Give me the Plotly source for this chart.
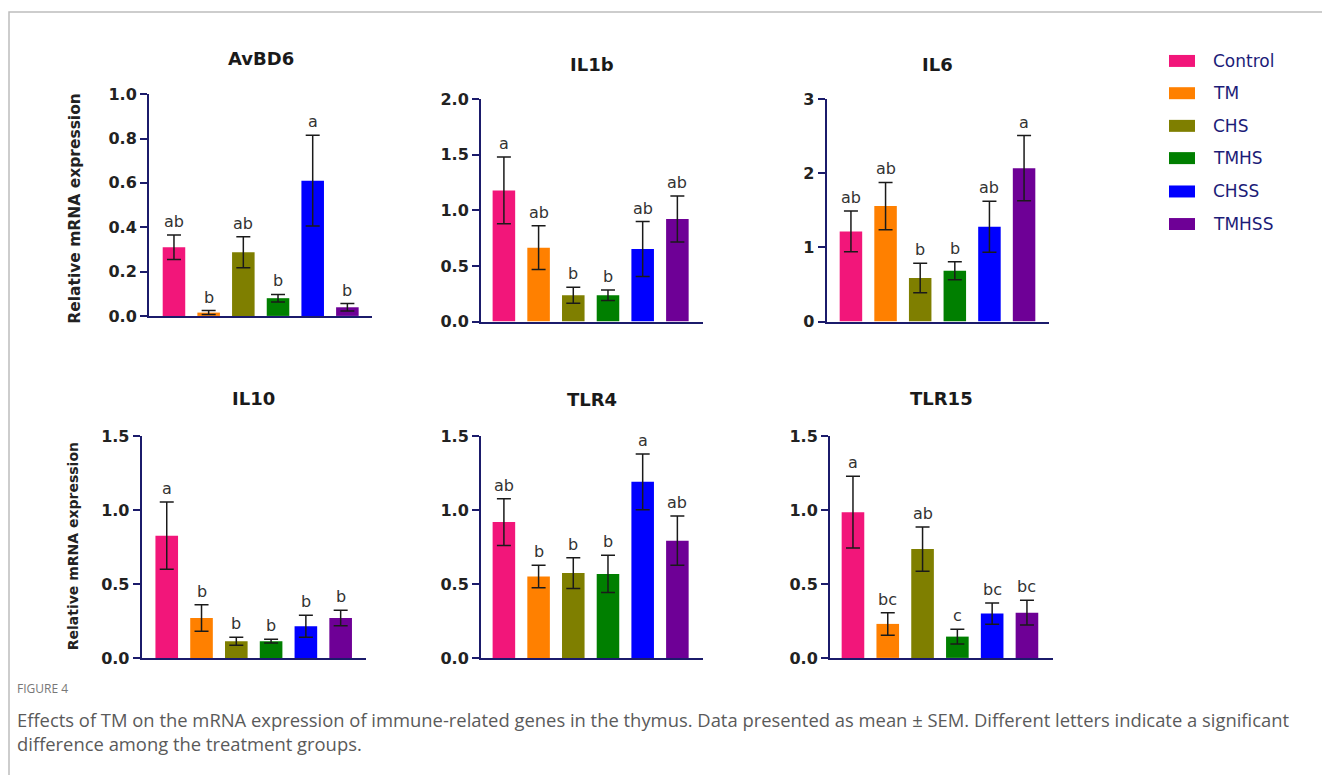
import plotly.graph_objects as go

# Figure coordinates are laid out in page pixels; the page shifts the figure
# down by its 8px body margin and the capture compresses it vertically a little.
W = 1322
TOP_OFF = 8.0
V_SCALE = 0.977
H = 785

groups = ["Control", "TM", "CHS", "TMHS", "CHSS", "TMHSS"]
colors = ["#F2167A", "#FF8000", "#7F7F00", "#007F00", "#0000FF", "#6E0096"]

genes = ["AvBD6", "IL1b", "IL6", "IL10", "TLR4", "TLR15"]

avbd6_mean = [0.31, 0.015, 0.287, 0.08, 0.61, 0.039]
avbd6_sem = [0.055, 0.009, 0.07, 0.017, 0.205, 0.017]
avbd6_letters = ["ab", "b", "ab", "b", "a", "b"]

il1b_mean = [1.18, 0.665, 0.237, 0.237, 0.653, 0.922]
il1b_sem = [0.30, 0.197, 0.071, 0.047, 0.247, 0.207]
il1b_letters = ["a", "ab", "b", "b", "ab", "ab"]

il6_mean = [1.217, 1.558, 0.588, 0.687, 1.28, 2.07]
il6_sem = [0.274, 0.319, 0.198, 0.121, 0.345, 0.44]
il6_letters = ["ab", "ab", "b", "b", "ab", "a"]

il10_mean = [0.827, 0.27, 0.113, 0.113, 0.214, 0.27]
il10_sem = [0.227, 0.09, 0.027, 0.013, 0.074, 0.052]
il10_letters = ["a", "b", "b", "b", "b", "b"]

tlr4_mean = [0.919, 0.55, 0.574, 0.568, 1.191, 0.793]
tlr4_sem = [0.158, 0.076, 0.104, 0.126, 0.189, 0.167]
tlr4_letters = ["ab", "b", "b", "b", "a", "ab"]

tlr15_mean = [0.986, 0.23, 0.736, 0.144, 0.30, 0.306]
tlr15_sem = [0.243, 0.076, 0.149, 0.05, 0.072, 0.084]
tlr15_letters = ["a", "bc", "ab", "c", "bc", "bc"]

y_max = [1.0, 2.0, 3.0, 1.5, 1.5, 1.5]
y_dtick = [0.2, 0.5, 1, 0.5, 0.5, 0.5]
y_fmt = [".1f", ".1f", "d", ".1f", ".1f", ".1f"]

means = [avbd6_mean, il1b_mean, il6_mean, il10_mean, tlr4_mean, tlr15_mean]
sems = [avbd6_sem, il1b_sem, il6_sem, il10_sem, tlr4_sem, tlr15_sem]
letters = [avbd6_letters, il1b_letters, il6_letters, il10_letters, tlr4_letters, tlr15_letters]

# panel boxes in page pixels: (left, right, top, bottom) and x range
panels = [
    (149.0, 372.0, 93.3, 315.3, (-0.72, 5.71)),
    (481.0, 702.7, 98.3, 321.0, (-0.66, 5.73)),
    (826.7, 1049.0, 98.3, 321.0, (-0.70, 5.72)),
    (141.7, 365.7, 435.7, 657.7, (-0.72, 5.72)),
    (481.0, 702.7, 435.7, 657.7, (-0.66, 5.73)),
    (830.0, 1052.7, 435.7, 657.7, (-0.66, 5.74)),
]
title_y = [58, 64, 64, 398, 399, 398]

AXIS = "#1b1b6b"
INK = "#1a1a1a"


def px(x):
    return x / W


def py(y):
    return 1 - ((y - TOP_OFF) / V_SCALE) / H


fig = go.Figure()
layout = {}
annotations = []
shapes = []

for i, gene in enumerate(genes):
    n = i + 1
    xa = "x" if n == 1 else f"x{n}"
    ya = "y" if n == 1 else f"y{n}"
    left, right, top, bottom, xr = panels[i]
    fig.add_trace(go.Bar(
        x=list(range(len(groups))),
        y=means[i],
        width=0.65,
        marker=dict(color=colors, line=dict(width=0)),
        error_y=dict(type="data", array=sems[i], visible=True,
                     color=INK, thickness=1.5, width=7),
        xaxis=xa, yaxis=ya,
        showlegend=False,
        hoverinfo="x+y",
    ))
    layout["xaxis" if n == 1 else f"xaxis{n}"] = dict(
        domain=[px(left), px(right)],
        anchor=ya,
        range=list(xr),
        showticklabels=False, ticks="", showgrid=False, zeroline=False,
        showline=True, linecolor=AXIS, linewidth=2,
    )
    layout["yaxis" if n == 1 else f"yaxis{n}"] = dict(
        domain=[py(bottom), py(top)],
        anchor=xa,
        range=[0, y_max[i]],
        dtick=y_dtick[i], tick0=0, tickformat=y_fmt[i],
        showgrid=False, zeroline=False,
        showline=True, linecolor=AXIS, linewidth=2,
        ticks="outside", ticklen=7, tickwidth=2, tickcolor=AXIS,
        tickfont=dict(family="DejaVu Sans", size=16, color="#222222", weight="bold"),
    )
    annotations.append(dict(
        text=gene, x=px((left + right) / 2), y=py(title_y[i]),
        xref="paper", yref="paper", xanchor="center", yanchor="middle",
        showarrow=False,
        font=dict(family="DejaVu Sans", size=18, color=INK, weight="bold"),
    ))
    for j, lab in enumerate(letters[i]):
        annotations.append(dict(
            text=lab, x=j, y=means[i][j] + sems[i][j],
            xref=xa, yref=ya, xanchor="center", yanchor="bottom",
            yshift=2, showarrow=False,
            font=dict(family="DejaVu Sans", size=16, color="#333333"),
        ))

# y-axis titles on the left column
for (xc, yc, size) in [(75, 208, 15.5), (73, 546, 14)]:
    annotations.append(dict(
        text="Relative mRNA expression", x=px(xc), y=py(yc),
        xref="paper", yref="paper", xanchor="center", yanchor="middle",
        textangle=-90, showarrow=False,
        font=dict(family="DejaVu Sans", size=size, color="#222222", weight="bold"),
    ))

# group key
legend_rows = [60, 92.3, 125, 157.3, 190.7, 223.3]
for g, c, yc in zip(groups, colors, legend_rows):
    shapes.append(dict(
        type="rect", xref="paper", yref="paper",
        x0=px(1169), x1=px(1195), y0=py(yc + 6), y1=py(yc - 6),
        fillcolor=c, line=dict(width=0),
    ))
    annotations.append(dict(
        text=g, x=px(1211), y=py(yc), xref="paper", yref="paper",
        xanchor="left", yanchor="middle", showarrow=False,
        font=dict(family="DejaVu Sans", size=17, color="#1c1c78"),
    ))

# caption
annotations.append(dict(
    text="FIGURE 4", x=px(15), y=py(688), xref="paper", yref="paper",
    xanchor="left", yanchor="middle", showarrow=False,
    font=dict(family="Open Sans", size=12, color="#777777"),
))
caption_lines = [
    "Effects of TM on the mRNA expression of immune-related genes in the thymus. "
    "Data presented as mean ± SEM. Different letters indicate a significant",
    "difference among the treatment groups.",
]
for line, yc in zip(caption_lines, [719, 743]):
    annotations.append(dict(
        text=line, x=px(15), y=py(yc), xref="paper", yref="paper",
        xanchor="left", yanchor="middle", showarrow=False,
        font=dict(family="Open Sans", size=18.4, color="#5a5a5a"),
    ))

# frame lines along top and left
shapes.append(dict(
    type="path", xref="paper", yref="paper",
    path=f"M {px(9)},0 L {px(9)},{py(11)} L 1,{py(11)}",
    line=dict(color="#bdbdbd", width=1.5),
))

fig.update_layout(
    **layout,
    annotations=annotations,
    shapes=shapes,
    width=W, height=H,
    margin=dict(l=0, r=0, t=0, b=0),
    paper_bgcolor="white", plot_bgcolor="white",
)

fig.write_html("out.html", config={"displayModeBar": False})
